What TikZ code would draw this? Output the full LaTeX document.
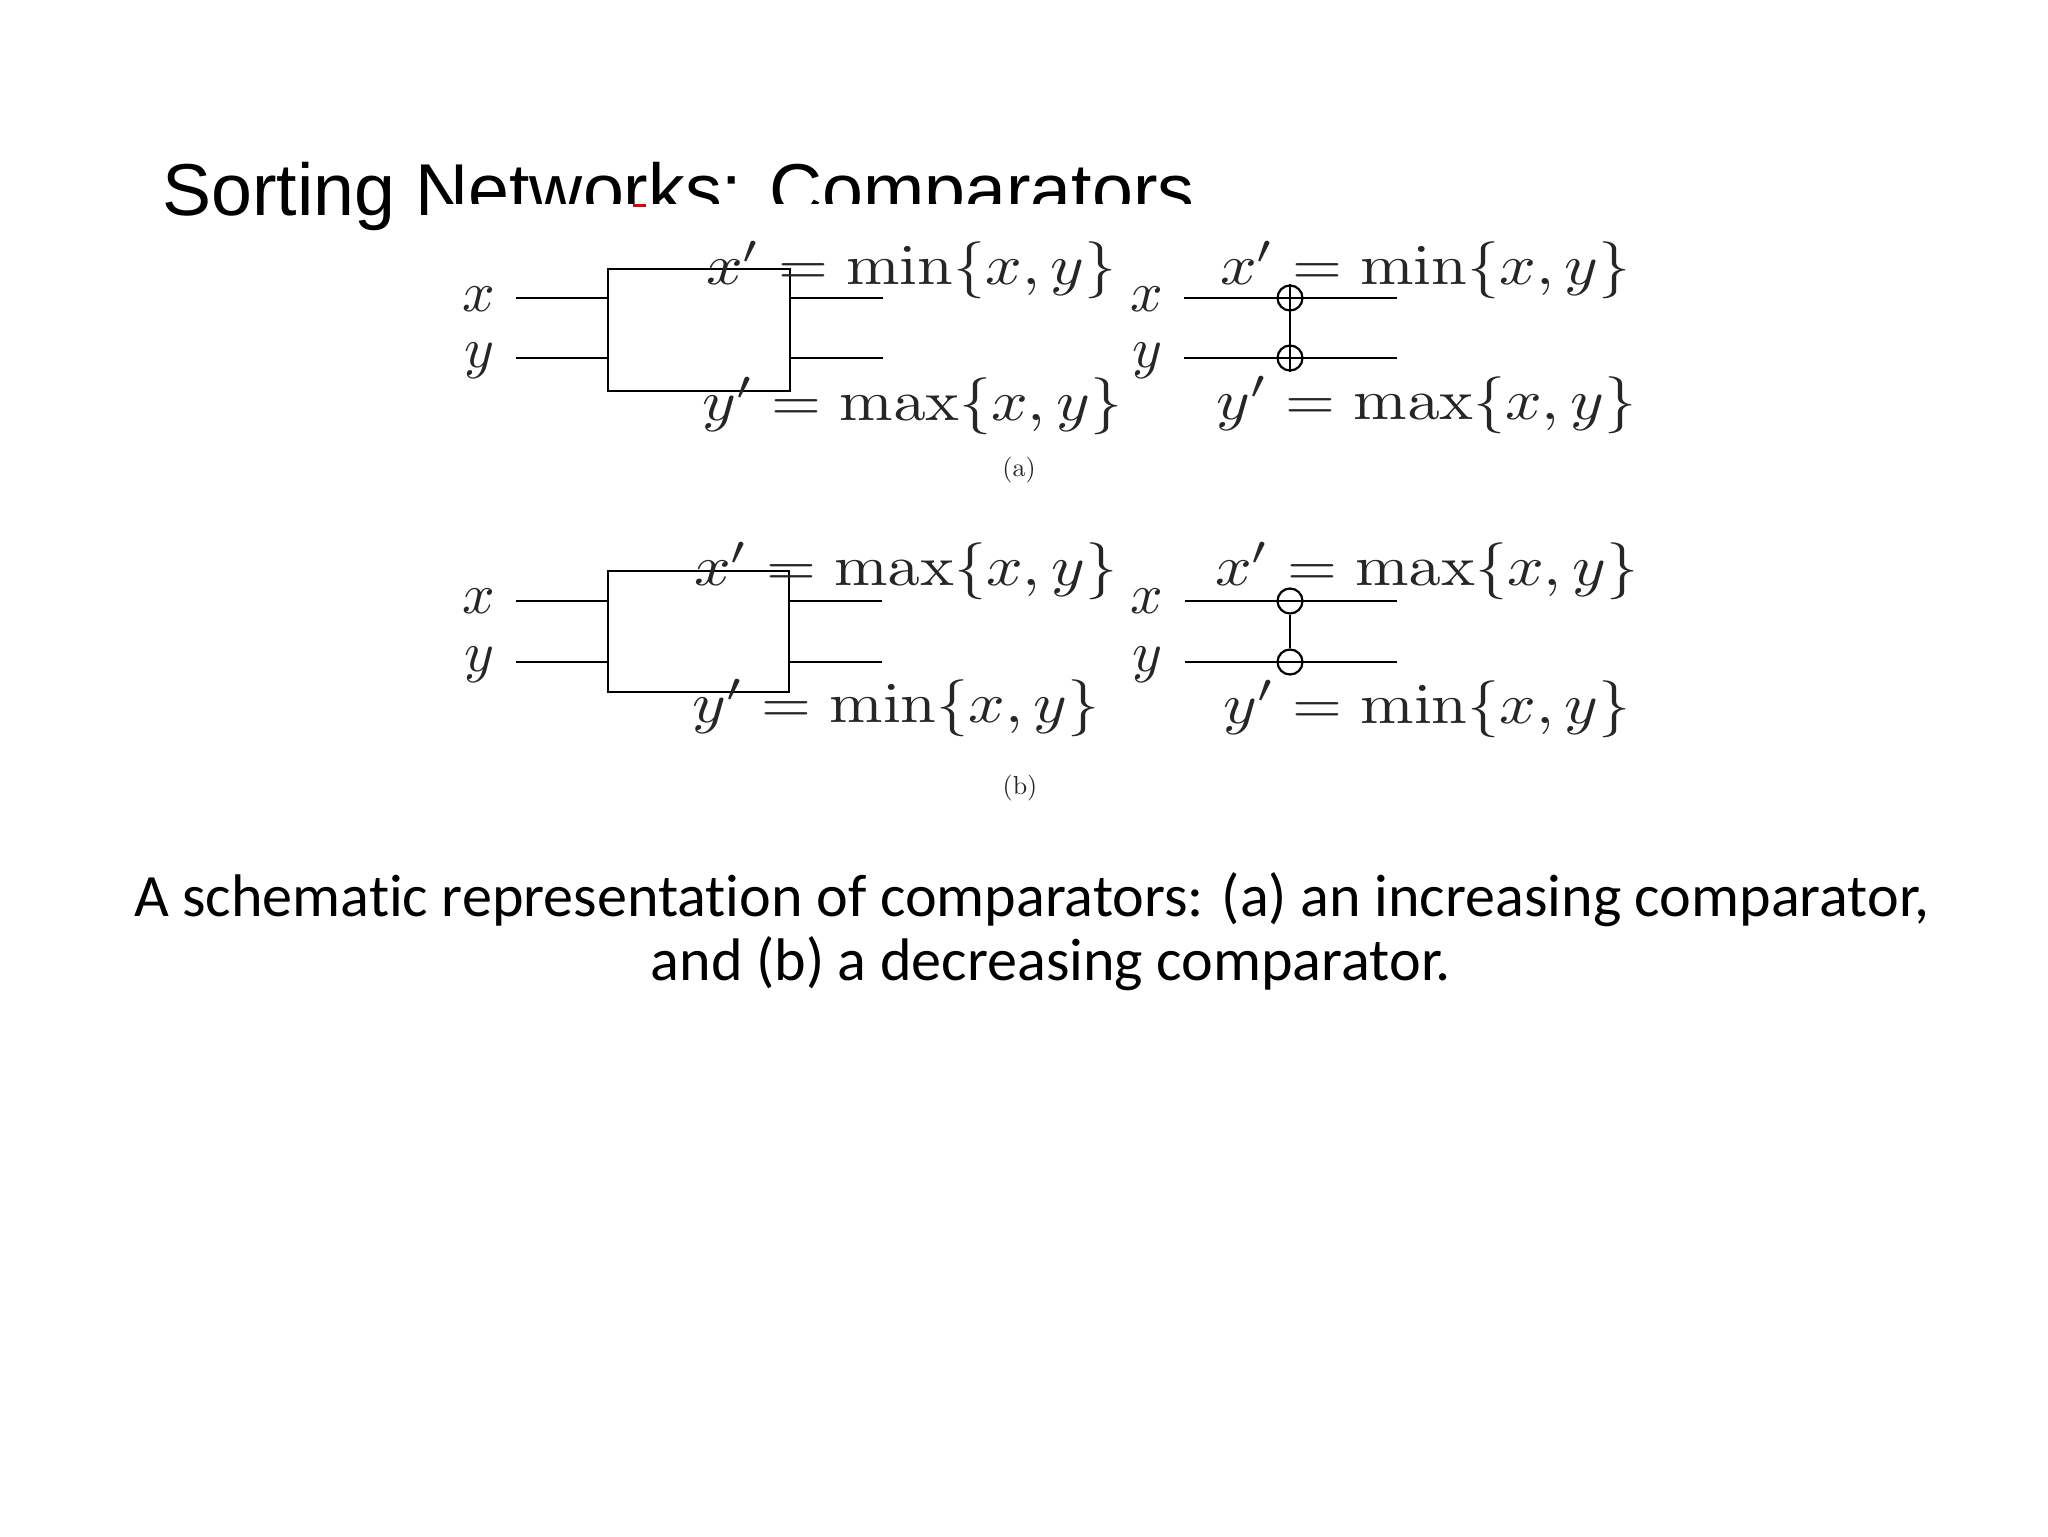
\documentclass[tikz,border=0pt]{standalone}
\usepackage[no-math]{fontspec}
\newfontfamily\titlefont{Liberation Sans}
\newfontfamily\captionfont[Ligatures=NoCommon]{Carlito}
\tikzset{
  wire/.style={line width=1.15pt,black},
  compbox/.style={draw=black,line width=1.15pt,inner sep=0pt,anchor=north west},
  joint/.style={circle,draw=black,line width=1.1pt,inner sep=0pt,minimum size=12.5pt},
  mathlabel/.style={inner sep=0pt,anchor=west,xscale=3.21,yscale=2.85,text=black!85},
  varlabel/.style={inner sep=0pt,scale=2.85,text=black!85},
  sublabel/.style={inner sep=0pt,scale=1.3,text=black!85},
  titletext/.style={inner sep=0pt,anchor=base west,font=\titlefont\fontsize{36.75}{42}\selectfont},
  captiontext/.style={inner sep=0pt,anchor=base,font=\captionfont\fontsize{30.05}{36}\selectfont},
}
\begin{document}
\begin{tikzpicture}[x=0.5pt,y=-0.5pt]
\useasboundingbox (0,0) rectangle (2048,1536);
\node[titletext] (title) at (162,215) {Sorting Networks: Comparators};
\fill[white] (430,204) rectangle (1660,810);
\fill[red!85!black] (633,204) rectangle (646,207);

% (a) box
\node[compbox,minimum width=91pt,minimum height=61pt] (boxa) at (607,268) {};
\node[varlabel] (xa) at (479,299.5) {$x$};
\node[varlabel] (ya) at (479,361) {$y$};
\coordinate (xal) at (516,298); \coordinate (yal) at (516,358);
\coordinate (xar) at (883,298); \coordinate (yar) at (883,358);
\draw[wire] (xal) -- (xal -| boxa.west);
\draw[wire] (yal) -- (yal -| boxa.west);
\draw[wire] (xar -| boxa.east) -- (xar);
\draw[wire] (yar -| boxa.east) -- (yar);
\node[mathlabel] (mxa) at (705,270) {$x'=\min\{x,y\}$};
\node[mathlabel] (mya) at (701,406) {$y'=\max\{x,y\}$};

% (a) gate
\node[varlabel] (xa2) at (1147,299.5) {$x$};
\node[varlabel] (ya2) at (1147,361) {$y$};
\coordinate (xbl) at (1184,298); \coordinate (xbr) at (1397,298);
\coordinate (ybl) at (1184,358); \coordinate (ybr) at (1397,358);
\node[joint] (ga) at (1290,298) {};
\node[joint] (gb) at (1290,358) {};
\draw[wire] (xbl) -- (xbr);
\draw[wire] (ybl) -- (ybr);
\draw[wire] (ga.north) -- (gb.south);
\node[mathlabel] (mxa2) at (1219,270) {$x'=\min\{x,y\}$};
\node[mathlabel] (mya2) at (1215,405) {$y'=\max\{x,y\}$};
\node[sublabel] (capa) at (1019,470) {(a)};

% (b) box
\node[compbox,minimum width=90.5pt,minimum height=60.5pt] (boxb) at (607,570) {};
\node[varlabel] (xb) at (479,601) {$x$};
\node[varlabel] (yb) at (479,664.5) {$y$};
\coordinate (xcl) at (516,601); \coordinate (ycl) at (516,662);
\coordinate (xcr) at (882,601); \coordinate (ycr) at (882,662);
\draw[wire] (xcl) -- (xcl -| boxb.west);
\draw[wire] (ycl) -- (ycl -| boxb.west);
\draw[wire] (xcr -| boxb.east) -- (xcr);
\draw[wire] (ycr -| boxb.east) -- (ycr);
\node[mathlabel] (mxb) at (693,571) {$x'=\max\{x,y\}$};
\node[mathlabel] (myb) at (691,708) {$y'=\min\{x,y\}$};

% (b) gate
\node[varlabel] (xb2) at (1147,601) {$x$};
\node[varlabel] (yb2) at (1147,664.5) {$y$};
\coordinate (xdl) at (1185,601); \coordinate (xdr) at (1397,601);
\coordinate (ydl) at (1185,662); \coordinate (ydr) at (1397,662);
\node[joint] (gc) at (1290,601) {};
\node[joint] (gd) at (1290,662) {};
\draw[wire] (xdl) -- (xdr);
\draw[wire] (ydl) -- (ydr);
\draw[wire] (gc) -- (gd);
\node[mathlabel] (mxb2) at (1214,571) {$x'=\max\{x,y\}$};
\node[mathlabel] (myb2) at (1222,709) {$y'=\min\{x,y\}$};
\node[sublabel] (capb) at (1020,788) {(b)};

% caption
\node[captiontext] (cap1) at (1032,916) {A schematic representation of comparators: (a) an increasing comparator,};
\node[captiontext] (cap2) at (1051,980) {and (b) a decreasing comparator.};
\end{tikzpicture}
\end{document}
